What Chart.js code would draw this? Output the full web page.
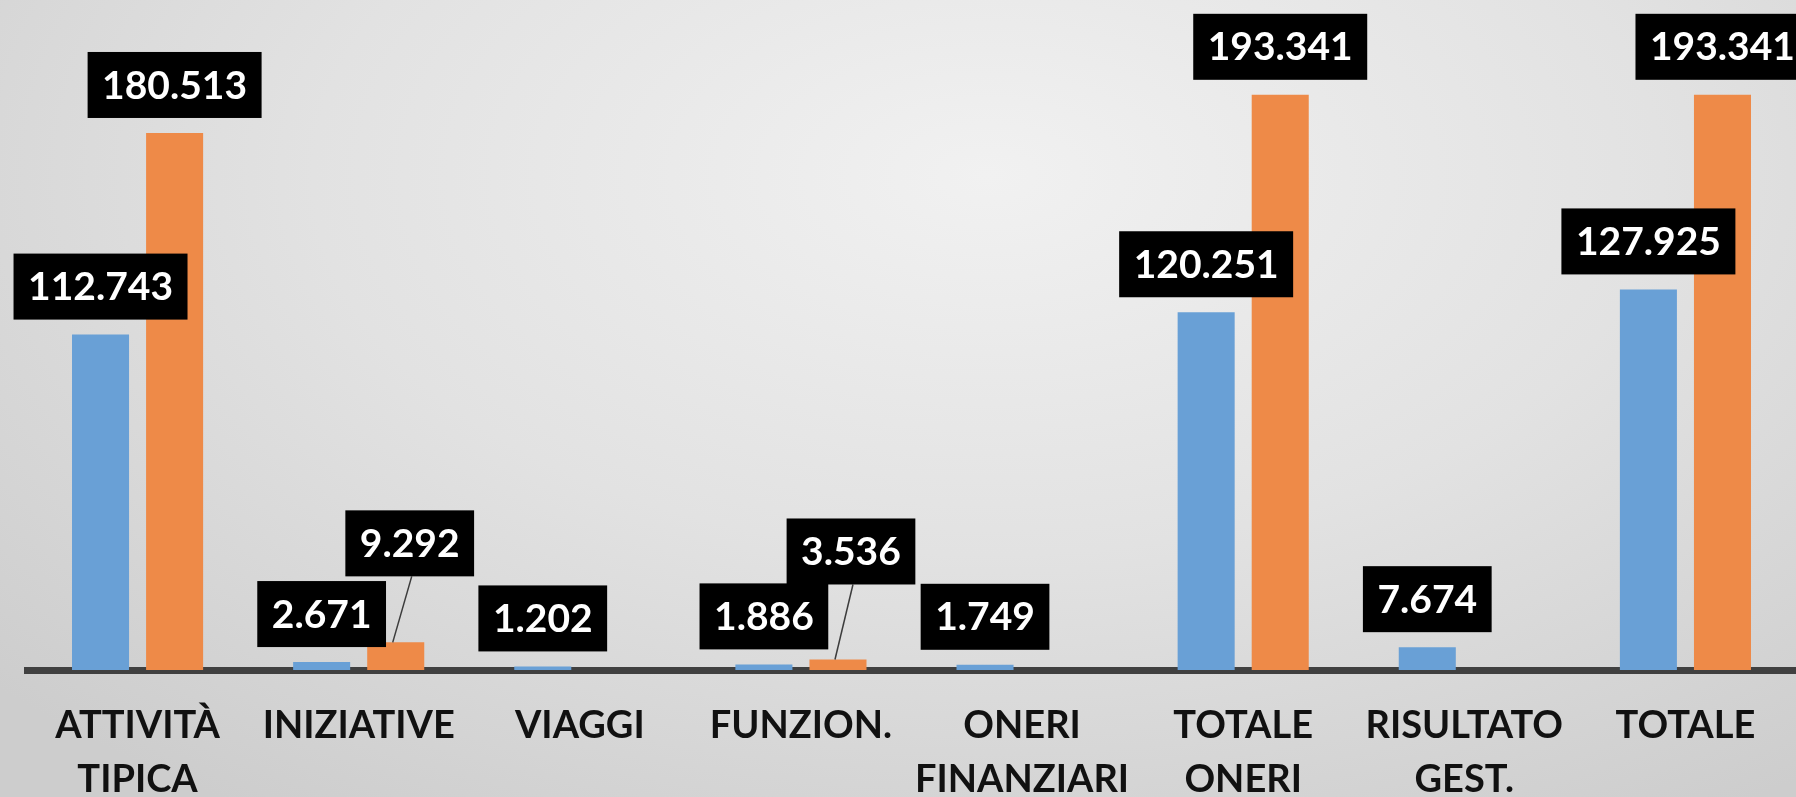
<!DOCTYPE html>
<html>
<head>
<meta charset="utf-8">
<script src="https://cdn.jsdelivr.net/npm/chart.js@4.4.1/dist/chart.umd.min.js"></script>
<style>
  html, body { margin: 0; padding: 0; }
  body {
    width: 1796px; height: 797px; overflow: hidden;
    background: radial-gradient(ellipse 75% 95% at 55% 22%, #f1f1f1 0%, #e2e2e2 50%, #cdcdcd 100%);
  }
  canvas { display: block; }
</style>
</head>
<body>
<canvas id="bilancio" width="1796" height="797"></canvas>
<script>
// categories and values (thousands)
var categorie = [
    ['ATTIVITÀ', 'TIPICA'],
    'INIZIATIVE',
    'VIAGGI',
    'FUNZION.',
    ['ONERI', 'FINANZIARI'],
    ['TOTALE', 'ONERI'],
    ['RISULTATO', 'GEST.'],
    'TOTALE'
];
var serieBlu = [112.743, 2.671, 1.202, 1.886, 1.749, 120.251, 7.674, 127.925];
var serieArancio = [180.513, 9.292, 0, 3.536, 0, 193.341, 0, 193.341];

// labels drawn as black boxes above each bar, like the Excel data labels
var boxLabels = {
    id: 'boxLabels',
    afterDraw: function (chart, args, opts) {
        var ctx = chart.ctx;
        ctx.save();
        ctx.font = 'bold 39px Lato';
        ctx.textAlign = 'center';
        ctx.textBaseline = 'middle';
        chart.data.datasets.forEach(function (ds, di) {
            var meta = chart.getDatasetMeta(di);
            meta.data.forEach(function (bar, i) {
                var v = ds.data[i];
                if (!v) return;
                var txt = v.toFixed(3);
                var nudge = opts.nudge[di + '-' + i] || {dx: 0, dy: 0};
                var w = ctx.measureText(txt).width + 29;
                var h = 66;
                var cx = bar.x + nudge.dx;
                var bottom = bar.y - 15 + nudge.dy;
                if (nudge.leader) {
                    ctx.strokeStyle = '#3c3c3c';
                    ctx.lineWidth = 1.5;
                    ctx.beginPath();
                    ctx.moveTo(cx + 2, bottom);
                    ctx.lineTo(bar.x - 3, bar.y);
                    ctx.stroke();
                }
                ctx.fillStyle = '#000';
                ctx.fillRect(cx - w / 2, bottom - h, w, h);
                ctx.fillStyle = '#fff';
                ctx.fillText(txt, cx, bottom - h / 2 + 1);
            });
        });
        ctx.restore();
    }
};

var ctxBil = document.getElementById('bilancio').getContext('2d');
var bilChart = new Chart(ctxBil, {
    type: 'bar',
    data: {
        labels: categorie,
        datasets: [
            {
                label: 'Blu',
                data: serieBlu,
                backgroundColor: '#69a0d6',
                borderWidth: 0
            },
            {
                label: 'Arancio',
                data: serieArancio,
                backgroundColor: '#ee8a48',
                borderWidth: 0
            }
        ]
    },
    options: {
        responsive: false,
        animation: false,
        layout: {
            padding: {top: 75, left: 27, right: 0, bottom: 0}
        },
        datasets: {
            bar: {
                categoryPercentage: 0.67,
                barPercentage: 0.77
            }
        },
        scales: {
            x: {
                z: 1,
                grid: {display: false, drawTicks: false},
                border: {display: true, color: '#404040', width: 7},
                ticks: {
                    autoSkip: false,
                    maxRotation: 0,
                    padding: 29,
                    color: '#111',
                    font: {family: 'Lato', weight: 'bold', size: 38, lineHeight: '54px'}
                },
                afterFit: function (scale) {
                    scale.height = 127;
                }
            },
            y: {
                display: false,
                min: 0,
                max: 200
            }
        },
        plugins: {
            legend: {display: false},
            tooltip: {enabled: false},
            boxLabels: {
                nudge: {
                    '1-1': {dx: 14, dy: -51, leader: true},
                    '1-3': {dx: 13, dy: -60, leader: true}
                }
            }
        }
    },
    plugins: [boxLabels]
});
</script>
</body>
</html>
